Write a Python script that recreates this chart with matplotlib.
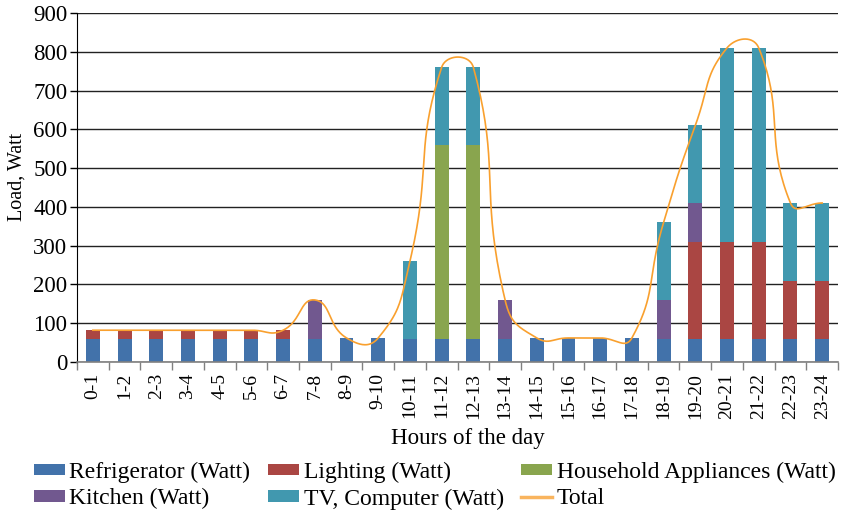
import numpy as np
import matplotlib.pyplot as plt
from matplotlib.lines import Line2D
from matplotlib.patches import Patch

plt.rcParams['font.family'] = ['Liberation Serif', 'DejaVu Serif']

hours = ["0-1", "1-2", "2-3", "3-4", "4-5", "5-6", "6-7", "7-8", "8-9", "9-10",
         "10-11", "11-12", "12-13", "13-14", "14-15", "15-16", "16-17", "17-18",
         "18-19", "19-20", "20-21", "21-22", "22-23", "23-24"]
fridge = [60, 60, 60, 60, 60, 60, 60, 60, 62, 62, 60, 60, 60, 60, 62, 62, 62, 62,
          60, 60, 60, 60, 60, 60]
lighting = [22, 22, 22, 22, 22, 22, 22, 0, 0, 0, 0, 0, 0, 0, 0, 0, 0, 0,
            0, 250, 250, 250, 150, 150]
appliances = [0, 0, 0, 0, 0, 0, 0, 0, 0, 0, 0, 500, 500, 0, 0, 0, 0, 0,
              0, 0, 0, 0, 0, 0]
kitchen = [0, 0, 0, 0, 0, 0, 0, 100, 0, 0, 0, 0, 0, 100, 0, 0, 0, 0,
           100, 100, 0, 0, 0, 0]
tv = [0, 0, 0, 0, 0, 0, 0, 0, 0, 0, 200, 200, 200, 0, 0, 0, 0, 0,
      200, 200, 500, 500, 200, 200]

series = [
    ("Refrigerator (Watt)", fridge, "#4272AA"),
    ("Lighting (Watt)", lighting, "#AA4643"),
    ("Household Appliances (Watt)", appliances, "#89A54E"),
    ("Kitchen (Watt)", kitchen, "#71588F"),
    ("TV, Computer (Watt)", tv, "#4198AF"),
]
line_color = "#F9A02E"

fig = plt.figure(figsize=(8.44, 5.13), dpi=100)
ax = fig.add_axes([77 / 844, 1 - 362 / 513, 761 / 844, 349 / 513])

x = np.arange(len(hours))
bottom = np.zeros(len(hours))
for name, vals, col in series:
    vals = np.array(vals, dtype=float)
    ax.bar(x, vals, width=0.44, bottom=bottom, color=col, zorder=2)
    bottom += vals
total = bottom

ax.set_xlim(-0.5, len(hours) - 0.5)
ax.set_ylim(0, 900)
ax.set_yticks(np.arange(0, 901, 100))
ax.grid(axis='y', color='#222222', linewidth=1.0, zorder=0)
ax.set_axisbelow(True)

# smoothed total line (bezier through the totals, built in screen space)
pts = ax.transData.transform(np.column_stack([x, total]))
k = 0.5
curve = []
for i in range(len(pts) - 1):
    p0 = pts[i - 1] if i > 0 else pts[i]
    p1 = pts[i]
    p2 = pts[i + 1]
    p3 = pts[i + 2] if i + 2 < len(pts) else pts[i + 1]
    d01 = np.linalg.norm(p1 - p0)
    d12 = np.linalg.norm(p2 - p1)
    d23 = np.linalg.norm(p3 - p2)
    c1 = p1 + (p2 - p0) * d12 / (d01 + d12) * k
    c2 = p2 - (p3 - p1) * d12 / (d12 + d23) * k
    t = np.linspace(0, 1, 40)[:, None]
    seg = ((1 - t) ** 3) * p1 + 3 * ((1 - t) ** 2) * t * c1 + 3 * (1 - t) * t ** 2 * c2 + t ** 3 * p2
    curve.append(seg if i == 0 else seg[1:])
curve = ax.transData.inverted().transform(np.vstack(curve))
ax.plot(curve[:, 0], curve[:, 1], color=line_color, linewidth=1.2, zorder=3)

ax.set_xticks(x)
ax.set_xticklabels(hours, rotation=90, fontsize=14)
ax.set_xticks(np.arange(-0.5, len(hours)), minor=True)
ax.tick_params(axis='x', which='major', length=0, pad=8)
ax.tick_params(axis='x', which='minor', length=6, color='#808080', width=1)
ax.tick_params(axis='y', labelsize=16.5, length=5, width=1, pad=2)

for s in ['top', 'right']:
    ax.spines[s].set_visible(False)
ax.spines['left'].set_color('black')
ax.spines['bottom'].set_color('#808080')
ax.spines['bottom'].set_linewidth(1.2)

ax.set_ylabel("Load, Watt", fontsize=14.5)
ax.yaxis.set_label_coords(-0.066, 0.53)
ax.set_xlabel("Hours of the day", fontsize=16.5)
ax.xaxis.set_label_coords(0.514, -0.19)

h = {name: Patch(facecolor=col) for name, _, col in series}
handles = [h["Refrigerator (Watt)"], h["Kitchen (Watt)"], h["Lighting (Watt)"],
           h["TV, Computer (Watt)"], h["Household Appliances (Watt)"],
           Line2D([0], [0], color="#F9B45E", linewidth=2.5)]
labels = ["Refrigerator (Watt)", "Kitchen (Watt)", "Lighting (Watt)",
          "TV, Computer (Watt)", "Household Appliances (Watt)", "Total"]
fig.legend(handles, labels, ncol=3, loc='lower left', bbox_to_anchor=(0.018, -0.03),
           frameon=False, fontsize=17, handlelength=1.3, handleheight=0.35,
           handletextpad=0.2, columnspacing=0.75, labelspacing=0.22,
           borderpad=0.3)

fig.savefig("out.png", dpi=100)
